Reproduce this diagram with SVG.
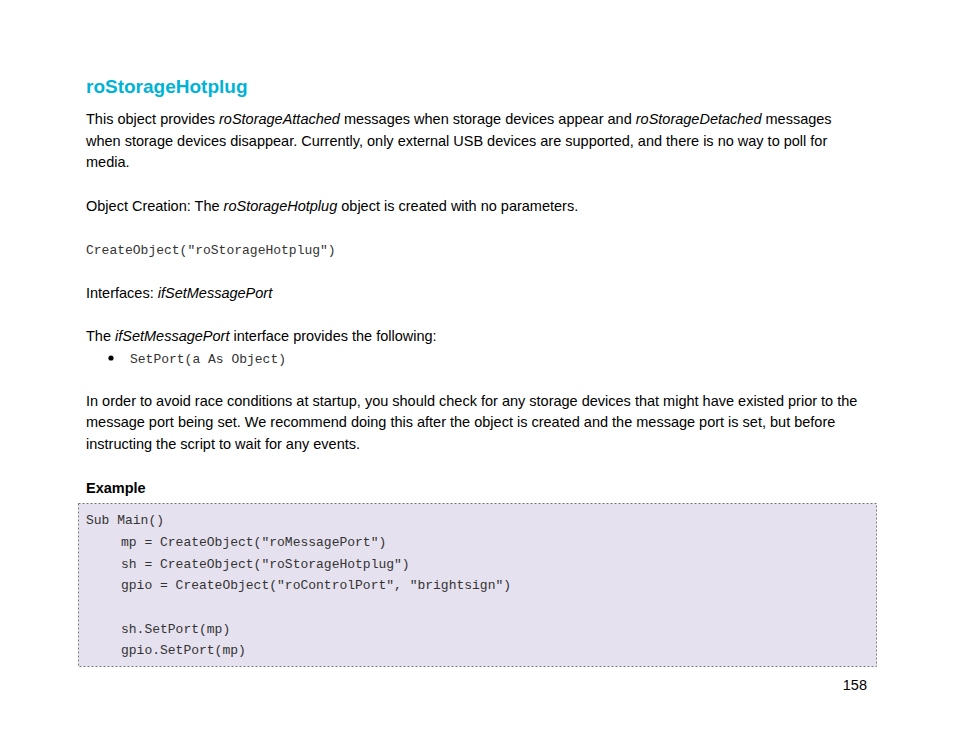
<svg xmlns="http://www.w3.org/2000/svg" width="954" height="738" viewBox="0 0 954 738">
<style>
.b{font-family:"Liberation Sans",Arial,sans-serif;font-size:14.5px;fill:#000}
.c{font-family:"Liberation Mono","Courier New",monospace;font-size:13px;fill:#333}
</style>
<rect width="954" height="738" fill="#fff"/>
<text x="86" y="93" font-family="Liberation Sans,Arial,sans-serif" font-size="19" font-weight="bold" fill="#00B3D6">roStorageHotplug</text>
<text class="b" x="86" y="124">This object provides <tspan font-style="italic">roStorageAttached</tspan> messages when storage devices appear and <tspan font-style="italic">roStorageDetached</tspan> messages</text>
<text class="b" x="86" y="146">when storage devices disappear. Currently, only external USB devices are supported, and there is no way to poll for</text>
<text class="b" x="86" y="167">media.</text>
<text class="b" x="86" y="211">Object Creation: The <tspan font-style="italic">roStorageHotplug</tspan> object is created with no parameters.</text>
<text class="c" x="86" y="254">CreateObject("roStorageHotplug")</text>
<text class="b" x="86" y="298">Interfaces: <tspan font-style="italic">ifSetMessagePort</tspan></text>
<text class="b" x="86" y="341">The <tspan font-style="italic">ifSetMessagePort</tspan> interface provides the following:</text>
<circle cx="111" cy="358" r="2.6" fill="#000"/>
<text class="c" x="130" y="363">SetPort(a As Object)</text>
<text class="b" x="86" y="406">In order to avoid race conditions at startup, you should check for any storage devices that might have existed prior to the</text>
<text class="b" x="86" y="427">message port being set. We recommend doing this after the object is created and the message port is set, but before</text>
<text class="b" x="86" y="449">instructing the script to wait for any events.</text>
<text class="b" x="86" y="493" font-weight="bold">Example</text>
<rect x="78.5" y="503.5" width="798" height="163" fill="#E6E1EF" stroke="#777" stroke-dasharray="2,2"/>
<text class="c" x="86" y="524">Sub Main()</text>
<text class="c" x="121" y="546">mp = CreateObject("roMessagePort")</text>
<text class="c" x="121" y="568">sh = CreateObject("roStorageHotplug")</text>
<text class="c" x="121" y="589">gpio = CreateObject("roControlPort", "brightsign")</text>
<text class="c" x="121" y="633">sh.SetPort(mp)</text>
<text class="c" x="121" y="654">gpio.SetPort(mp)</text>
<text class="b" x="867" y="690" text-anchor="end">158</text>
</svg>
